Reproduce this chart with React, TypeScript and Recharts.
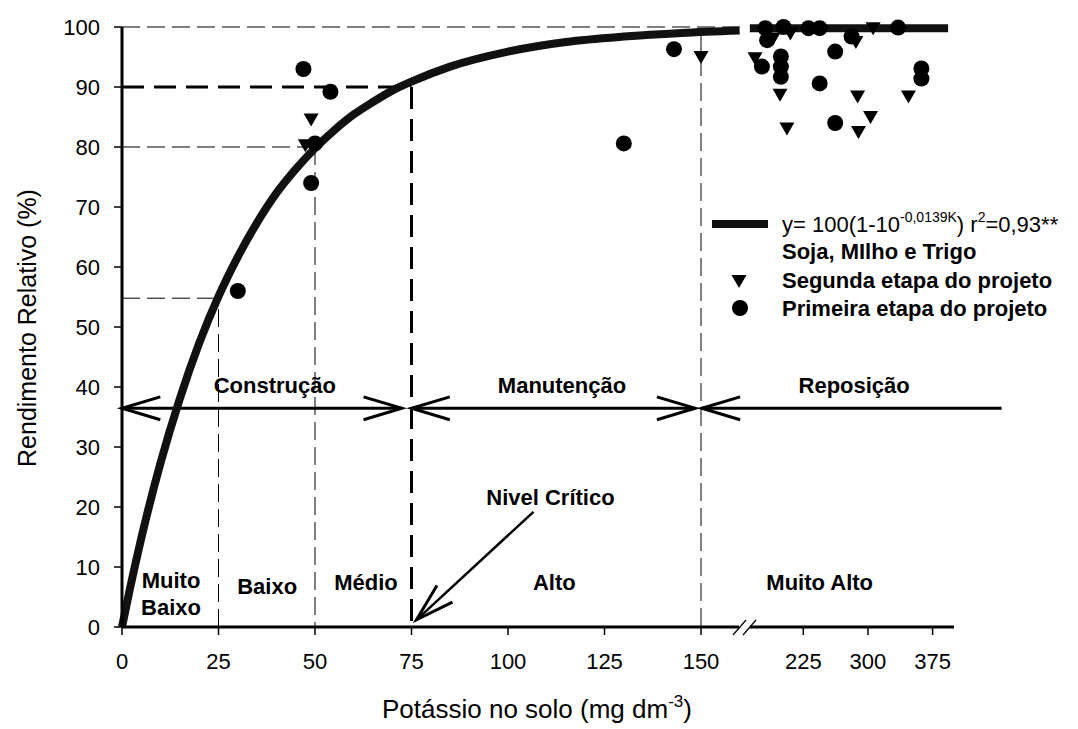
import React from "react";
import {
  ComposedChart,
  Line,
  Scatter,
  XAxis,
  YAxis,
  ReferenceLine,
  ReferenceDot,
} from "recharts";

// x-axis ticks (real K values) and their labels
const xTickK = [0, 25, 50, 75, 100, 125, 150, 225, 300, 375];
const xTickLabels = ["0", "25", "50", "75", "100", "125", "150", "225", "300", "375"];
const yTicks = [0, 10, 20, 30, 40, 50, 60, 70, 80, 90, 100];

// fitted curve
const curveLowK = [0, 2, 5, 10, 15, 20, 25, 30, 35, 40, 45, 50, 55, 60, 65, 70, 75, 85, 100, 115, 130, 145, 160];
const curveLowY = [0, 6.2, 14.8, 27.4, 38.1, 47.3, 55.1, 61.7, 67.4, 72.3, 76.3, 79.8, 82.8, 85.4, 87.5, 89.4, 90.9, 93.4, 95.9, 97.5, 98.4, 99.0, 99.4];
const curveHighK = [163, 393];
const curveHighY = [99.8, 99.8];

// Primeira etapa do projeto (circles)
const primeiraK = [30, 47, 54, 50, 49, 130, 143, 181, 202, 231, 244, 183, 177, 199, 199, 199, 262, 244, 262, 281, 335, 362, 362];
const primeiraY = [56, 93, 89.2, 80.6, 74, 80.6, 96.3, 99.8, 100, 99.8, 99.8, 97.8, 93.4, 95.1, 93.4, 91.7, 95.9, 90.6, 84, 98.4, 99.9, 93.1, 91.4];

// Segunda etapa do projeto (triangles)
const segundaK = [49, 47.5, 150, 169, 198, 206, 190, 210, 286, 306, 288, 347, 303, 289];
const segundaY = [84.6, 80.3, 95, 94.8, 88.7, 83.1, 98.1, 98.9, 97.5, 99.8, 88.4, 88.4, 85, 82.5];

// class labels
const zoneLabels = [
  { lines: ["Muito", "Baixo"], k: 12.7, y: 5.6 },
  { lines: ["Baixo"], k: 37.6, y: 6.8 },
  { lines: ["Médio"], k: 63.2, y: 7.5 },
  { lines: ["Alto"], k: 112, y: 7.5 },
  { lines: ["Muito Alto"], k: 244, y: 7.5 },
  { lines: ["Construção"], k: 39.6, y: 40.3 },
  { lines: ["Manutenção"], k: 114, y: 40.3 },
  { lines: ["Reposição"], k: 284, y: 40.3 },
  { lines: ["Nivel Crítico"], k: 111, y: 21.7 },
];

// fertilisation arrows
const arrowLevel = 36.45;
const zoneArrows = [
  { from: 0, to: 72.5, start: true, end: true },
  { from: 75, to: 148.5, start: true, end: true },
  { from: 150.2, to: 455, start: true, end: false },
];

// dashed guides: [k1, y1, k2, y2]
const thinGuides = [
  [0, 100, 160, 100],
  [0, 80, 50, 80],
  [50, 80, 50, 0],
  [0, 54.8, 25, 54.8],
  [25, 53, 25, 0],
  [150, 99, 150, 0],
];
const thickGuides = [
  [0, 90, 75, 90],
  [75, 90, 75, 0],
];

// broken axis: linear up to 160, compressed scale from 225 on
const CUT = 160;
const BREAK_X = 161.4;
const toX = (k: number) => (k <= CUT ? k : 176.5 + (k - 225) * 0.2233);
const pts = (ks: number[], ys: number[]) => ks.map((k, i) => ({ x: toX(k), y: ys[i] }));

const FONT = "'Liberation Sans', Arial, sans-serif";

const chevron = (tx: number, ty: number, ox: number, oy: number) => {
  const a = Math.atan2(oy - ty, ox - tx);
  const L = 40;
  const s = 0.29;
  const p1 = `${tx + L * Math.cos(a + s)},${ty + L * Math.sin(a + s)}`;
  const p2 = `${tx + L * Math.cos(a - s)},${ty + L * Math.sin(a - s)}`;
  return <polyline points={`${p1} ${tx},${ty} ${p2}`} fill="none" stroke="#000" strokeWidth={3} />;
};

const arrowShape = (start: boolean, end: boolean, w = 3) => (p: any) => (
  <g>
    <line x1={p.x1} y1={p.y1} x2={p.x2} y2={p.y2} stroke="#000" strokeWidth={w} />
    {start && chevron(p.x1, p.y1, p.x2, p.y2)}
    {end && chevron(p.x2, p.y2, p.x1, p.y1)}
  </g>
);

const textShape = (lines: string[]) => (p: any) => (
  <text x={p.cx} y={p.cy} textAnchor="middle" fontWeight="bold" fontSize={22} fill="#000" fontFamily={FONT}>
    {lines.map((l, i) => (
      <tspan key={i} x={p.cx} dy={i === 0 ? 8 - (lines.length - 1) * 13.5 : 27}>
        {l}
      </tspan>
    ))}
  </text>
);

const Triangle = (p: any) => (
  <polygon
    points={`${p.cx - 7.5},${p.cy - 6} ${p.cx + 7.5},${p.cy - 6} ${p.cx},${p.cy + 7}`}
    fill="#000"
  />
);
const Circle = (p: any) => <circle cx={p.cx} cy={p.cy} r={8} fill="#000" />;

const AxisBreak = (p: any) => (
  <g>
    <rect x={p.cx - 6} y={p.cy - 2.5} width={11} height={5} fill="#fff" />
    <line x1={p.cx - 12} y1={p.cy + 8} x2={p.cx + 1} y2={p.cy - 7} stroke="#000" strokeWidth={1.2} />
    <line x1={p.cx - 2} y1={p.cy + 8} x2={p.cx + 11} y2={p.cy - 7} stroke="#000" strokeWidth={1.2} />
  </g>
);

const yTitle = () => (
  <text x={19} y={320} transform="rotate(-90 19 320)" textAnchor="middle" dominantBaseline="central" fontSize={25} fill="#000" fontFamily={FONT}>
    Rendimento Relativo (%)
  </text>
);

const xTitle = () => (
  <text x={529} y={710} textAnchor="middle" fontSize={26} fill="#000" fontFamily={FONT}>
    Potássio no solo (mg dm
    <tspan dy={-11} fontSize={17}>-3</tspan>
    <tspan dy={11}>)</tspan>
  </text>
);

export default function App() {
  return (
    <div style={{ position: "relative", width: 1062, height: 721, fontFamily: FONT }}>
      <ComposedChart width={1062} height={721} margin={{ top: 19, right: 116, bottom: 42, left: 64 }}>
        <XAxis
          type="number"
          dataKey="x"
          domain={[0, 215.54]}
          ticks={xTickK.map(toX)}
          tickFormatter={(_v: number, i: number) => xTickLabels[i]}
          interval={0}
          height={60}
          axisLine={{ stroke: "#000", strokeWidth: 3 }}
          tickLine={{ stroke: "#000", strokeWidth: 1.5 }}
          tickSize={8}
          tickMargin={18}
          tick={{ fill: "#000", fontSize: 22 }}
          label={{ content: xTitle }}
        />
        <YAxis
          type="number"
          dataKey="y"
          domain={[0, 100]}
          ticks={yTicks}
          interval={0}
          width={50}
          axisLine={{ stroke: "#000", strokeWidth: 3 }}
          tickLine={{ stroke: "#000", strokeWidth: 1.5 }}
          tickSize={8}
          tickMargin={14}
          tick={{ fill: "#000", fontSize: 22 }}
          label={{ content: yTitle }}
        />
        {thinGuides.map((g, i) => (
          <ReferenceLine
            key={"t" + i}
            segment={[{ x: toX(g[0]), y: g[1] }, { x: toX(g[2]), y: g[3] }]}
            stroke="#000"
            strokeWidth={1}
            strokeDasharray="18 7"
            ifOverflow="visible"
          />
        ))}
        {thickGuides.map((g, i) => (
          <ReferenceLine
            key={"T" + i}
            segment={[{ x: toX(g[0]), y: g[1] }, { x: toX(g[2]), y: g[3] }]}
            stroke="#000"
            strokeWidth={3}
            strokeDasharray="22 10"
            ifOverflow="visible"
          />
        ))}
        {zoneArrows.map((a, i) => (
          <ReferenceLine
            key={"a" + i}
            segment={[{ x: toX(a.from), y: arrowLevel }, { x: toX(a.to), y: arrowLevel }]}
            ifOverflow="visible"
            shape={arrowShape(a.start, a.end)}
          />
        ))}
        <ReferenceLine
          segment={[{ x: 106.6, y: 19.2 }, { x: 76.3, y: 1.2 }]}
          ifOverflow="visible"
          shape={arrowShape(false, true, 2.5)}
        />
        {zoneLabels.map((z, i) => (
          <ReferenceDot key={"z" + i} x={toX(z.k)} y={z.y} r={1} ifOverflow="visible" shape={textShape(z.lines)} />
        ))}
        <ReferenceDot x={BREAK_X} y={0} r={1} ifOverflow="visible" shape={AxisBreak} />
        <Line
          data={pts(curveLowK, curveLowY)}
          dataKey="y"
          type="monotone"
          stroke="#111"
          strokeWidth={8}
          dot={false}
          activeDot={false}
          isAnimationActive={false}
        />
        <Line
          data={pts(curveHighK, curveHighY)}
          dataKey="y"
          type="linear"
          stroke="#111"
          strokeWidth={8}
          dot={false}
          activeDot={false}
          isAnimationActive={false}
        />
        <Scatter data={pts(segundaK, segundaY)} dataKey="y" shape={Triangle} isAnimationActive={false} />
        <Scatter data={pts(primeiraK, primeiraY)} dataKey="y" shape={Circle} isAnimationActive={false} />
      </ComposedChart>
      <svg
        width={1062}
        height={721}
        style={{ position: "absolute", left: 0, top: 0, pointerEvents: "none" }}
        fontFamily={FONT}
      >
        <line x1={704} y1={216} x2={760} y2={216} stroke="#111" strokeWidth={8} />
        <text x={774} y={224} fontSize={22} fill="#000">
          y= 100(1-10
          <tspan dy={-10} fontSize={14}>-0,0139K</tspan>
          <tspan dy={10}>) r</tspan>
          <tspan dy={-10} fontSize={14}>2</tspan>
          <tspan dy={10}>=0,93**</tspan>
        </text>
        <text x={774} y={251} fontSize={22} fontWeight="bold" fill="#000">
          Soja, MIlho e Trigo
        </text>
        <polygon points="723.5,267 738.5,267 731,280" fill="#000" />
        <text x={774} y={280} fontSize={22} fontWeight="bold" fill="#000">
          Segunda etapa do projeto
        </text>
        <circle cx={732} cy={300} r={8} fill="#000" />
        <text x={774} y={308} fontSize={22} fontWeight="bold" fill="#000">
          Primeira etapa do projeto
        </text>
      </svg>
    </div>
  );
}
